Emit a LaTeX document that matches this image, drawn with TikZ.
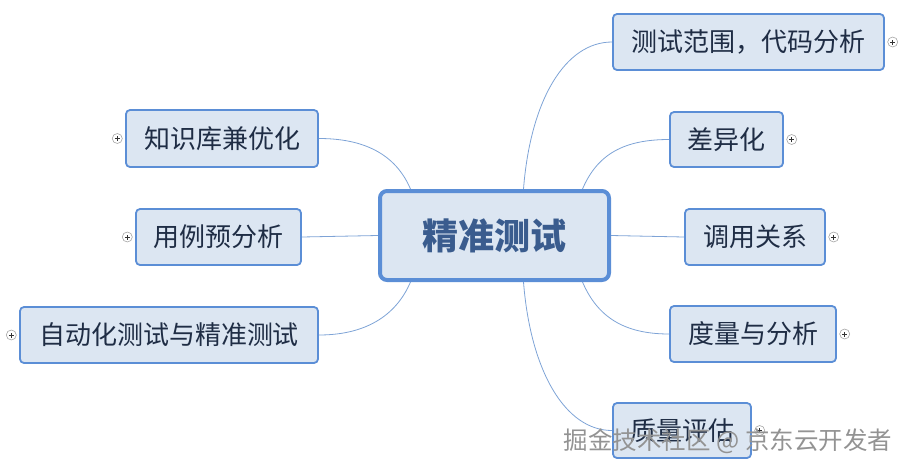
\documentclass[tikz,border=0pt]{standalone}
\usepackage{fontspec}
\usetikzlibrary{positioning,backgrounds}
\newfontfamily\cjk{Noto Sans CJK SC}
\definecolor{mapline}{HTML}{5B8ED6}
\definecolor{mapfill}{HTML}{DCE6F2}
\definecolor{maptext}{HTML}{1F2D45}
\definecolor{coretext}{HTML}{3A5C8E}
\definecolor{twigline}{HTML}{7EA3D6}
\tikzset{
	topic/.style={draw=mapline, line width=1.8pt, fill=mapfill, rounded corners=4pt,
		inner sep=0pt, text=maptext, font=\cjk\fontsize{26}{26}\selectfont},
	core/.style={topic, line width=4pt, rounded corners=7pt, text=coretext,
		font=\cjk\bfseries\fontsize{36}{36}\selectfont},
	twig/.style={draw=twigline, line width=0.8pt},
	knob/.style={circle, draw=gray!70, fill=white, line width=0.6pt, minimum size=10pt, inner sep=0pt,
		path picture={\draw[line width=0.7pt, black!80]
			([xshift=-2.5pt]path picture bounding box.center) -- ([xshift=2.5pt]path picture bounding box.center)
			([yshift=-2.5pt]path picture bounding box.center) -- ([yshift=2.5pt]path picture bounding box.center);}},
}
\begin{document}
\begin{tikzpicture}[x=1pt, y=-1pt]
	\useasboundingbox (0,0) rectangle (911,472) ;
	% centre
	\node (core)[core, minimum width=229, minimum height=89] at (494.5,235.5) {精准测试} ;
	% right branches
	\node (scope)[topic, minimum width=271, minimum height=56] at (748.5,42) {测试范围，代码分析} ;
	\node (diff)[topic, minimum width=113, minimum height=55] at (726.5,139.5) {差异化} ;
	\node (calls)[topic, minimum width=140, minimum height=56] at (755,237) {调用关系} ;
	\node (metric)[topic, minimum width=166, minimum height=56] at (753,334) {度量与分析} ;
	\node (quality)[topic, minimum width=138, minimum height=55] at (682,430.5) {质量评估} ;
	% left branches
	\node (kb)[topic, minimum width=192, minimum height=57] at (222,138.5) {知识库兼优化} ;
	\node (prec)[topic, minimum width=165, minimum height=56] at (218.5,237) {用例预分析} ;
	\node (auto)[topic, minimum width=298, minimum height=56] at (169,335) {自动化测试与精准测试} ;
	% collapse knobs
	\node (k1)[knob, right=2.5pt of scope] {} ;
	\node (k2)[knob, right=2.5pt of diff] {} ;
	\node (k3)[knob, right=2.5pt of calls] {} ;
	\node (k4)[knob, right=2.5pt of metric] {} ;
	\node (k5)[knob, right=2.5pt of quality] {} ;
	\node (k6)[knob, left=2.5pt of kb] {} ;
	\node (k7)[knob, left=2.5pt of prec] {} ;
	\node (k8)[knob, left=2.5pt of auto] {} ;
	% links
	\begin{scope}[on background layer]
	\draw[twig] ([xshift=29pt]core.north) .. controls +(7,-89) and +(-47,0) .. (scope.west) ;
	\draw[twig] ([xshift=88pt]core.north) .. controls +(15,-35) and +(-45,0) .. (diff.west) ;
	\draw[twig] (core.east) -- (calls.west) ;
	\draw[twig] ([xshift=88pt]core.south) .. controls +(15,35) and +(-45,0) .. (metric.west) ;
	\draw[twig] ([xshift=29pt]core.south) .. controls +(7,89) and +(-47,0) .. (quality.west) ;
	\draw[twig] ([xshift=-84pt]core.north) .. controls +(-15,-35) and +(45,0) .. (kb.east) ;
	\draw[twig] (core.west) -- (prec.east) ;
	\draw[twig] ([xshift=-84pt]core.south) .. controls +(-15,35) and +(45,0) .. (auto.east) ;
	\end{scope}
	% watermark
	\node (mark)[anchor=center, text=gray!85, font=\cjk\fontsize{24.5}{24.5}\selectfont] at (728,441) {掘金技术社区 @ 京东云开发者} ;
\end{tikzpicture}
\end{document}
